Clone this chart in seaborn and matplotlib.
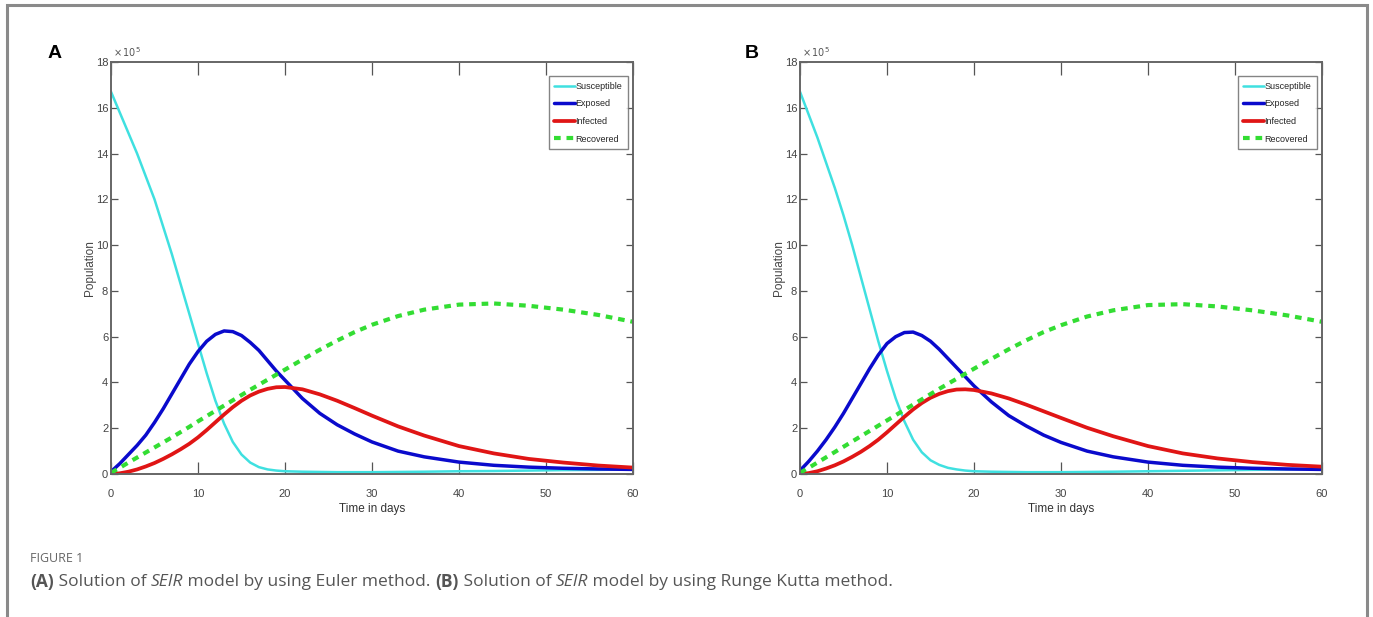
import matplotlib
matplotlib.use("Agg")
import matplotlib.pyplot as plt
import matplotlib.font_manager as fm
import seaborn as sns
import numpy as np
from matplotlib.patches import Rectangle
from matplotlib.lines import Line2D

# ---------------- data ----------------
t = [0, 1, 2, 3, 4, 5, 6, 7, 8, 9, 10, 11, 12, 13, 14, 15, 16, 17, 18, 19, 20,
     22, 24, 26, 28, 30, 33, 36, 40, 44, 48, 52, 56, 60]

# Panel A (Euler) - values in units of 1e5
S_A = [16.7, 15.8, 14.9, 14.0, 13.0, 12.0, 10.8, 9.6, 8.3, 7.0, 5.7, 4.4, 3.2, 2.2, 1.4, 0.85, 0.5, 0.3, 0.2, 0.15, 0.12,
       0.1, 0.09, 0.08, 0.08, 0.08, 0.09, 0.1, 0.12, 0.13, 0.15, 0.17, 0.18, 0.2]
E_A = [0.1, 0.45, 0.85, 1.25, 1.7, 2.25, 2.85, 3.5, 4.15, 4.8, 5.35, 5.8, 6.1, 6.25, 6.22, 6.05, 5.75, 5.4, 4.95, 4.5, 4.1,
       3.3, 2.65, 2.15, 1.75, 1.4, 1.0, 0.75, 0.52, 0.38, 0.3, 0.25, 0.22, 0.2]
I_A = [0.0, 0.03, 0.1, 0.2, 0.33, 0.48, 0.66, 0.86, 1.08, 1.32, 1.6, 1.92, 2.26, 2.6, 2.92, 3.2, 3.43, 3.6, 3.72, 3.79, 3.8,
       3.7, 3.48, 3.2, 2.88, 2.55, 2.08, 1.68, 1.22, 0.9, 0.66, 0.5, 0.37, 0.28]
R_A = [0.05, 0.27, 0.5, 0.72, 0.94, 1.16, 1.38, 1.6, 1.83, 2.06, 2.3, 2.53, 2.76, 2.99, 3.22, 3.45, 3.68, 3.9, 4.12, 4.34, 4.56,
       5.0, 5.43, 5.83, 6.2, 6.52, 6.9, 7.18, 7.4, 7.45, 7.35, 7.18, 6.95, 6.65]

# Panel B (Runge Kutta)
S_B = [16.7, 15.7, 14.7, 13.6, 12.5, 11.3, 10.0, 8.6, 7.2, 5.8, 4.5, 3.3, 2.3, 1.5, 0.95, 0.6, 0.4, 0.27, 0.2, 0.15, 0.12,
       0.1, 0.09, 0.08, 0.08, 0.08, 0.09, 0.1, 0.12, 0.14, 0.16, 0.18, 0.2, 0.22]
E_B = [0.15, 0.55, 1.0, 1.5, 2.05, 2.65, 3.3, 3.95, 4.6, 5.2, 5.7, 6.0, 6.18, 6.2, 6.05, 5.8, 5.45, 5.05, 4.65, 4.25, 3.85,
       3.15, 2.55, 2.1, 1.7, 1.38, 1.0, 0.75, 0.52, 0.38, 0.3, 0.25, 0.22, 0.2]
I_B = [0.0, 0.04, 0.12, 0.24, 0.38, 0.55, 0.75, 0.97, 1.22, 1.5, 1.82, 2.16, 2.5, 2.82, 3.1, 3.33, 3.5, 3.62, 3.69, 3.7, 3.67,
       3.52, 3.3, 3.03, 2.74, 2.45, 2.02, 1.65, 1.22, 0.9, 0.68, 0.52, 0.4, 0.32]
R_B = [0.05, 0.27, 0.5, 0.73, 0.96, 1.19, 1.42, 1.65, 1.88, 2.11, 2.34, 2.57, 2.8, 3.03, 3.26, 3.49, 3.72, 3.94, 4.16, 4.38, 4.6,
       5.03, 5.45, 5.84, 6.2, 6.5, 6.88, 7.15, 7.38, 7.42, 7.32, 7.15, 6.93, 6.65]

series_names = ["Susceptible", "Exposed", "Infected", "Recovered"]
x_ticks = [0, 10, 20, 30, 40, 50, 60]
y_ticks = [0, 2, 4, 6, 8, 10, 12, 14, 16, 18]
panel_labels = ["A", "B"]

# ---------------- style ----------------
sns.set_theme(style="white")
plt.rcParams['font.family'] = ['DejaVu Sans']
names = {f.name for f in fm.fontManager.ttflist}
narrow = 'Liberation Sans Narrow' if 'Liberation Sans Narrow' in names else (
    'Liberation Sans' if 'Liberation Sans' in names else 'DejaVu Sans')
sans = 'Liberation Sans' if 'Liberation Sans' in names else 'DejaVu Sans'
cap_font = 'Open Sans' if 'Open Sans' in names else 'DejaVu Sans'

colors = ["#3fe0e0", "#0a0acc", "#e01515", "#33dd33"]
widths = [1.8, 2.5, 2.7, 3.0]
styles = ["-", "-", "-", (0, (1.6, 1.4))]

W, H = 1373, 617
fig = plt.figure(figsize=(W / 100, H / 100), dpi=100)
fig.patch.set_facecolor("white")

def fx(px):
    return px / W

def fy(py):
    return 1 - py / H

axes_px = [(111, 62, 633, 474), (800, 62, 1322, 474)]
data = [(S_A, E_A, I_A, R_A), (S_B, E_B, I_B, R_B)]
label_pos = [(55, 53), (752, 53)]

for k, ((x0, y0, x1, y1), vals) in enumerate(zip(axes_px, data)):
    ax = fig.add_axes([fx(x0), fy(y1), fx(x1 - x0), (y1 - y0) / H])
    for v, c, lw, ls in zip(vals, colors, widths, styles):
        sns.lineplot(x=t, y=v, ax=ax, color=c, linewidth=lw, linestyle=ls, legend=False)
    ax.set_xlim(0, 60)
    ax.set_ylim(0, 18)
    ax.set_xticks(x_ticks)
    ax.set_yticks(y_ticks)
    ax.set_xticklabels([str(v) for v in x_ticks], fontfamily=narrow, fontsize=8, color="#444444")
    ax.set_yticklabels([str(v) for v in y_ticks], fontfamily=narrow, fontsize=8, color="#444444")
    ax.tick_params(axis="x", direction="in", length=9, width=0.9, color="#555555",
                   top=True, bottom=True, pad=11)
    ax.tick_params(axis="y", direction="in", length=5, width=0.9, color="#555555",
                   left=True, right=True, pad=2)
    for sp in ax.spines.values():
        sp.set_color("#666666")
        sp.set_linewidth(1.4)
    ax.set_xlabel("Time in days", fontfamily=narrow, fontsize=8.5, color="#333333", labelpad=3)
    ax.set_ylabel("Population", fontfamily=sans, fontsize=8.5, color="#444444", labelpad=0)
    ax.text(0.003, 1.008, r"$\times\,10^5$", transform=ax.transAxes, fontsize=7,
            color="#555555", ha="left", va="bottom")
    handles = [Line2D([0], [0], color=c, lw=lw, linestyle=ls) for c, lw, ls in zip(colors, widths, styles)]
    leg = ax.legend(handles, series_names, loc="upper right", bbox_to_anchor=(0.99, 0.965),
                    prop={"family": narrow, "size": 6.5}, frameon=True, fancybox=False,
                    handlelength=2.3, handletextpad=0.1, borderpad=0.6, labelspacing=0.95,
                    borderaxespad=0)
    leg.get_frame().set_edgecolor("#666666")
    leg.get_frame().set_linewidth(1.0)
    fig.text(fx(label_pos[k][0]), fy(label_pos[k][1]), panel_labels[k], fontfamily=sans,
             fontweight="bold", fontsize=14, ha="center", va="center", color="black")

# outer frame
fig.patches.append(Rectangle((fx(7), fy(640)), fx(1360), (640 - 5) / H, transform=fig.transFigure,
                             fill=False, edgecolor="#8a8a8a", linewidth=2.2))

fig.text(fx(30), fy(558), "FIGURE 1", fontfamily=cap_font, fontsize=9, color="#666666",
         ha="left", va="center")

# caption built from pieces with mixed styles
caption_parts = [("(A)", "bold", "normal"), (" Solution of ", "normal", "normal"), ("SEIR", "normal", "italic"),
                 (" model by using Euler method. ", "normal", "normal"), ("(B)", "bold", "normal"),
                 (" Solution of ", "normal", "normal"), ("SEIR", "normal", "italic"),
                 (" model by using Runge Kutta method.", "normal", "normal")]
renderer = fig.canvas.get_renderer()
xpos = fx(30)
for txt, wt, st in caption_parts:
    tt = fig.text(xpos, fy(582), txt, fontfamily=cap_font, fontsize=12.5, fontweight=wt, fontstyle=st,
                  color="#555555", ha="left", va="center")
    bb = tt.get_window_extent(renderer=renderer)
    xpos += bb.width / W

fig.savefig("out.png", dpi=100, facecolor="white")
